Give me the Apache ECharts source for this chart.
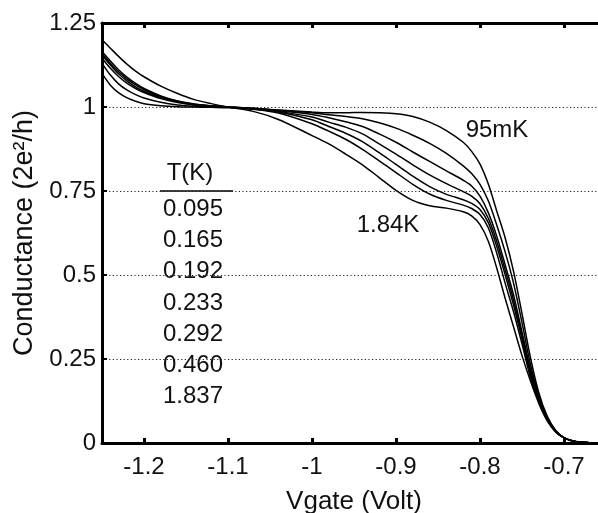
<!DOCTYPE html>
<html>
<head>
<meta charset="utf-8">
<script src="https://cdn.jsdelivr.net/npm/echarts@6/dist/echarts.min.js"></script>
<style>
  html, body { margin: 0; padding: 0; background: #fff; }
  #chart { width: 598px; height: 513px; }
</style>
</head>
<body>
<div id="chart"></div>
<script>
// gate voltage samples (V)
const vgate = [-1.25, -1.24, -1.23, -1.22, -1.21, -1.2, -1.18, -1.16, -1.14, -1.12, -1.1, -1.07, -1.04, -1.0,
  -0.98, -0.96, -0.94, -0.92, -0.9, -0.88, -0.86, -0.84, -0.82, -0.81, -0.8, -0.79, -0.78, -0.77, -0.76,
  -0.75, -0.74, -0.73, -0.72, -0.71, -0.7, -0.69, -0.68, -0.67, -0.66]

// conductance (2e^2/h), one trace per temperature
const g095 = [1.10, 1.065, 1.042, 1.027, 1.017, 1.010, 1.004, 1.001, 1.000, 0.999, 0.998, 0.995, 0.991, 0.985,
  0.983, 0.983, 0.984, 0.983, 0.980, 0.972, 0.955, 0.930, 0.895, 0.868, 0.830, 0.770, 0.690, 0.610, 0.510,
  0.385, 0.255, 0.150, 0.080, 0.038, 0.016, 0.007, 0.003, 0.001, 0.000]
const g165 = [1.13, 1.095, 1.068, 1.05, 1.037, 1.027, 1.014, 1.006, 1.002, 1.0, 0.999, 0.996, 0.990, 0.983,
  0.977, 0.972, 0.965, 0.953, 0.937, 0.916, 0.892, 0.862, 0.825, 0.802, 0.770, 0.720, 0.648, 0.568, 0.475,
  0.358, 0.235, 0.142, 0.075, 0.036, 0.016, 0.007, 0.003, 0.001, 0.000]
const g192 = [1.145, 1.115, 1.09, 1.07, 1.055, 1.043, 1.025, 1.013, 1.006, 1.002, 1.0, 0.996, 0.989, 0.978,
  0.968, 0.956, 0.942, 0.920, 0.895, 0.866, 0.838, 0.810, 0.782, 0.765, 0.735, 0.685, 0.615, 0.530, 0.440,
  0.330, 0.220, 0.135, 0.072, 0.035, 0.015, 0.006, 0.002, 0.001, 0.000]
const g233 = [1.155, 1.125, 1.098, 1.077, 1.06, 1.047, 1.028, 1.015, 1.007, 1.003, 1.0, 0.995, 0.987, 0.970,
  0.955, 0.940, 0.920, 0.890, 0.860, 0.828, 0.798, 0.772, 0.748, 0.735, 0.712, 0.668, 0.600, 0.515, 0.425,
  0.320, 0.212, 0.132, 0.071, 0.035, 0.015, 0.006, 0.002, 0.001, 0.000]
const g292 = [1.16, 1.13, 1.104, 1.083, 1.066, 1.052, 1.031, 1.017, 1.008, 1.003, 1.0, 0.994, 0.985, 0.962,
  0.942, 0.922, 0.897, 0.864, 0.829, 0.794, 0.763, 0.740, 0.724, 0.713, 0.695, 0.655, 0.585, 0.500, 0.410,
  0.310, 0.205, 0.128, 0.070, 0.034, 0.015, 0.006, 0.002, 0.001, 0.000]
const g460 = [1.165, 1.137, 1.11, 1.088, 1.07, 1.055, 1.033, 1.018, 1.009, 1.004, 1.0, 0.993, 0.982, 0.950,
  0.928, 0.904, 0.874, 0.840, 0.805, 0.770, 0.741, 0.722, 0.708, 0.698, 0.680, 0.640, 0.565, 0.475, 0.390,
  0.295, 0.196, 0.124, 0.069, 0.034, 0.015, 0.006, 0.002, 0.001, 0.000]
const g1837 = [1.20, 1.175, 1.15, 1.127, 1.107, 1.09, 1.062, 1.04, 1.022, 1.01, 1.0, 0.987, 0.963, 0.915,
  0.890, 0.860, 0.828, 0.790, 0.752, 0.722, 0.706, 0.699, 0.688, 0.676, 0.650, 0.600, 0.520, 0.430, 0.345,
  0.260, 0.185, 0.118, 0.066, 0.033, 0.015, 0.006, 0.002, 0.001, 0.000]

const temps = ['0.095', '0.165', '0.192', '0.233', '0.292', '0.460', '1.837']
const traces = [g095, g165, g192, g233, g292, g460, g1837]

const xTicks = [-1.2, -1.1, -1.0, -0.9, -0.8, -0.7]

const FONT = '"Liberation Sans", Arial, sans-serif'

const chart = echarts.init(document.getElementById('chart'), null, { renderer: 'canvas' })

const series = traces.map((g, k) => ({
  name: temps[k],
  type: 'line',
  xAxisIndex: 0,
  showSymbol: false,
  smooth: 0.3,
  lineStyle: { color: '#000', width: 1.5 },
  data: vgate.map((v, i) => [v, g[i]])
}))

// legend column under "T(K)"
const legendTexts = temps.map((t, i) => ({
  type: 'text',
  x: 193,
  y: 209 + i * 31.3,
  style: { text: t, font: '24px ' + FONT, fill: '#111', align: 'center', verticalAlign: 'middle' }
}))

const option = {
  backgroundColor: '#fff',
  animation: false,
  grid: { left: 102, top: 23, bottom: 70, width: 504, containLabel: false, outerBoundsMode: 'none' },
  xAxis: [
    {
      type: 'value',
      min: -1.25,
      max: -0.65,
      name: 'Vgate (Volt)',
      nameLocation: 'middle',
      nameGap: 46,
      nameTextStyle: { fontFamily: FONT, fontSize: 26, color: '#111' },
      axisLine: { onZero: false, lineStyle: { color: '#000', width: 3 } },
      axisTick: { inside: true, length: 5, customValues: xTicks, lineStyle: { color: '#000', width: 3 } },
      axisLabel: {
        customValues: xTicks,
        margin: 12,
        fontFamily: FONT, fontSize: 24, color: '#111',
        formatter: v => String(+v.toFixed(2))
      },
      splitLine: { show: false }
    },
    {
      type: 'value',
      position: 'top',
      min: -1.25,
      max: -0.65,
      axisLine: { onZero: false, lineStyle: { color: '#000', width: 3 } },
      axisTick: { inside: true, length: 5, customValues: xTicks, lineStyle: { color: '#000', width: 3 } },
      axisLabel: { show: false },
      splitLine: { show: false }
    }
  ],
  yAxis: {
    type: 'value',
    min: 0,
    max: 1.25,
    interval: 0.25,
    name: 'Conductance (2e²/h)',
    nameLocation: 'middle',
    nameGap: 62,
    nameTextStyle: { fontFamily: FONT, fontSize: 27, color: '#111' },
    axisLine: { onZero: false, lineStyle: { color: '#000', width: 3 } },
    axisTick: { inside: true, length: 5, lineStyle: { color: '#000', width: 2 } },
    axisLabel: { margin: 6, fontFamily: FONT, fontSize: 24, color: '#111' },
    splitLine: {
      show: true,
      lineStyle: { color: '#222', width: 1.2, type: [1.2, 2.4] }
    }
  },
  graphic: [
    {
      type: 'text', x: 190, y: 173,
      style: { text: 'T(K)', font: '24px ' + FONT, fill: '#111', align: 'center', verticalAlign: 'middle' }
    },
    {
      type: 'line',
      shape: { x1: 160, y1: 191, x2: 233, y2: 191 },
      style: { stroke: '#000', lineWidth: 1.5 }
    },
    ...legendTexts,
    {
      type: 'text', x: 497, y: 130,
      style: { text: '95mK', font: '24px ' + FONT, fill: '#111', align: 'center', verticalAlign: 'middle' }
    },
    {
      type: 'text', x: 388, y: 225,
      style: { text: '1.84K', font: '24px ' + FONT, fill: '#111', align: 'center', verticalAlign: 'middle' }
    }
  ],
  series
}

chart.setOption(option)
</script>
</body>
</html>
